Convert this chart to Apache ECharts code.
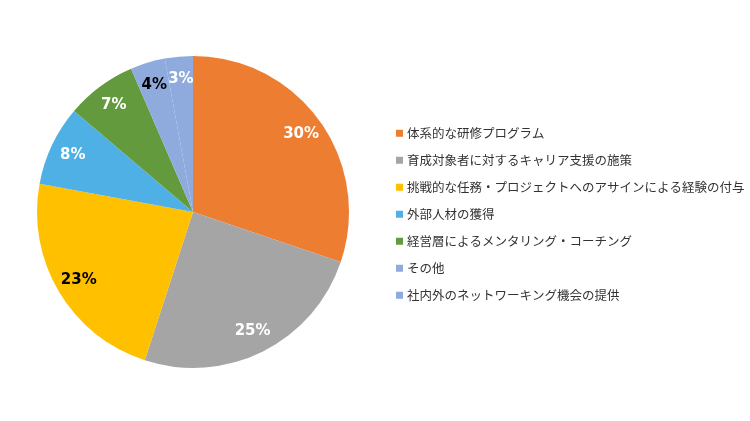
<!DOCTYPE html>
<html>
<head>
<meta charset="utf-8">
<script src="https://cdn.jsdelivr.net/npm/echarts@6/dist/echarts.min.js"></script>
<style>
  html, body { margin: 0; padding: 0; background: #fff; }
  #container { width: 750px; height: 421px; }
</style>
</head>
<body>
<div id="container"></div>
<script>
var dom = document.getElementById("container");
var pieChart = echarts.init(dom);

// categories and values (percent)
const categories = [
    "体系的な研修プログラム",
    "育成対象者に対するキャリア支援の施策",
    "挑戦的な任務・プロジェクトへのアサインによる経験の付与",
    "外部人材の獲得",
    "経営層によるメンタリング・コーチング",
    "その他",
    "社内外のネットワーキング機会の提供"
];
const values = [30.2, 24.8, 22.9, 8.3, 7.3, 3.6, 2.9];

const palette = ["#ED7D31", "#A5A5A5", "#FFC000", "#4FB0E5", "#639A3E", "#8FAADC", "#8FAADC"];
const labelColors = ["#fff", "#fff", "#000", "#fff", "#fff", "#000", "#fff"];

const pieData = categories.map(function (name, i) {
    return { name: name, value: values[i], itemStyle: { color: palette[i] } };
});

const labelData = categories.map(function (name, i) {
    return { name: name, value: values[i], label: { color: labelColors[i] } };
});

var option = {
    backgroundColor: "#fff",
    animation: false,
    legend: {
        orient: "vertical",
        left: 391,
        top: 122,
        itemWidth: 7,
        itemHeight: 7,
        itemGap: 14.5,
        icon: "rect",
        data: categories,
        textStyle: {
            fontFamily: "Noto Sans CJK JP",
            fontSize: 12.5,
            color: "#333",
            padding: [0, 0, 0, -1],
        },
        selectedMode: false,
    },
    series: [
        {
            type: "pie",
            center: [193, 212],
            radius: [0, 156],
            startAngle: 90,
            clockwise: true,
            silent: true,
            label: { show: false },
            labelLine: { show: false },
            itemStyle: { borderWidth: 0 },
            data: pieData,
        },
        {
            // transparent ring used only to place the labels near the rim
            type: "pie",
            center: [193, 212],
            radius: [104, 156],
            startAngle: 90,
            clockwise: true,
            silent: true,
            avoidLabelOverlap: false,
            itemStyle: { color: "rgba(0,0,0,0)", borderWidth: 0 },
            label: {
                show: true,
                position: "inside",
                fontFamily: "DejaVu Sans",
                fontWeight: "bold",
                fontSize: 15,
                formatter: function (p) {
                    return Math.round(p.value) + "%";
                },
            },
            labelLine: { show: false },
            data: labelData,
        },
    ],
};

pieChart.setOption(option);
</script>
</body>
</html>
